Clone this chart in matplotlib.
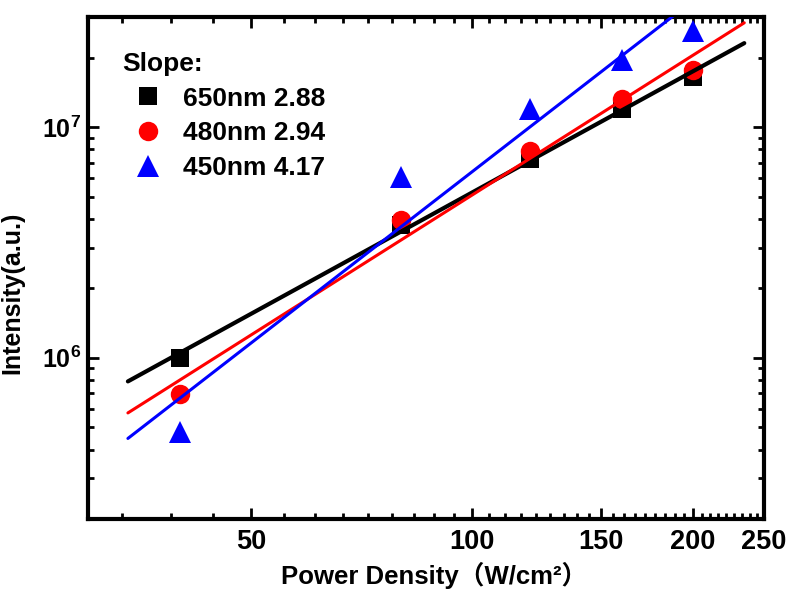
import numpy as np
import matplotlib; matplotlib.use("Agg")
import matplotlib.pyplot as plt
from matplotlib.ticker import FixedLocator, FixedFormatter, LogLocator, NullFormatter
from matplotlib.font_manager import FontProperties

plt.rcParams["font.family"] = ["Liberation Sans", "Noto Sans CJK SC", "DejaVu Sans"]
plt.rcParams["font.weight"] = "bold"
plt.rcParams["mathtext.fontset"] = "custom"
plt.rcParams["mathtext.rm"] = "Liberation Sans:bold"
plt.rcParams["mathtext.bf"] = "Liberation Sans:bold"

# ── Data ──────────────────────────────────────────────────────────────────────
power = [40, 80, 120, 160, 200]                       # W/cm^2
i_650 = [1.00e6, 3.78e6, 7.26e6, 1.20e7, 1.65e7]
i_480 = [6.97e5, 3.94e6, 7.87e6, 1.32e7, 1.77e7]
i_450 = [4.77e5, 6.07e6, 1.20e7, 1.95e7, 2.61e7]
labels = ["650nm 2.88", "480nm 2.94", "450nm 4.17"]
fit_range = [34, 235]

x_major = [50, 100, 150, 200, 250]
y_major = [1e6, 1e7]
y_major_lbl = [r"$\mathbf{10^{6}}$", r"$\mathbf{10^{7}}$"]

# ── Style ─────────────────────────────────────────────────────────────────────
series = [
    (i_650, "#000000", "s", 13, 3.0),
    (i_480, "#ff0000", "o", 14, 2.2),
    (i_450, "#0000ff", "^", 16, 2.2),
]

fig = plt.figure(figsize=(7.89, 5.90), dpi=100, facecolor="white")
ax = fig.add_axes([88 / 789, 71 / 590, 676 / 789, 502 / 590])
ax.set_xscale("log")
ax.set_yscale("log")

lx = np.log10(power)
fx = np.array(fit_range, dtype=float)
for (vals, col, mk, ms, lw), lab in zip(series, labels):
    ax.plot(power, vals, ls="none", marker=mk, ms=ms, color=col,
            markeredgewidth=0, label=lab, zorder=3)
# log-log least-squares fit lines
for vals, col, mk, ms, lw in series:
    p = np.polyfit(lx, np.log10(vals), 1)
    ax.plot(fx, 10 ** np.polyval(p, np.log10(fx)), color=col, lw=lw,
            solid_capstyle="round", zorder=4)

ax.set_xlim(30, 250)
ax.set_ylim(2e5, 3e7)

ax.xaxis.set_major_locator(FixedLocator(x_major))
ax.xaxis.set_major_formatter(FixedFormatter([str(v) for v in x_major]))
ax.xaxis.set_minor_locator(FixedLocator([50 / 9 * k for k in range(6, 45) if k % 9]))
ax.xaxis.set_minor_formatter(NullFormatter())
ax.yaxis.set_major_locator(FixedLocator(y_major))
ax.yaxis.set_major_formatter(FixedFormatter(y_major_lbl))
ax.yaxis.set_minor_locator(LogLocator(base=10, subs=range(2, 10)))
ax.yaxis.set_minor_formatter(NullFormatter())

for s in ax.spines.values():
    s.set_linewidth(3)
ax.tick_params(which="both", direction="in", top=True, right=True, width=2)
ax.tick_params(which="major", length=8, labelsize=19.5, pad=7)
ax.tick_params(which="minor", length=4)
ax.tick_params(axis="y", which="major", labelsize=18, pad=5)

ax.set_xlabel("Power Density（W/cm²）", fontsize=18.5, fontweight="bold", labelpad=4)
ax.xaxis.set_label_coords(0.512, -0.085)
ax.set_ylabel("Intensity(a.u.)", fontsize=18, fontweight="bold")
ax.yaxis.set_label_coords(-0.0947, 0.45)

leg_font = FontProperties(family="Liberation Sans", weight="bold", size=19)
ttl_font = FontProperties(family="Liberation Sans", weight="bold", size=19)
ax.legend(title="Slope:", loc="upper left", bbox_to_anchor=(0.05, 0.93),
          frameon=False, prop=leg_font, title_fontproperties=ttl_font,
          alignment="left", handlelength=1.97, handletextpad=0.34,
          labelspacing=0.40, borderpad=0, borderaxespad=0, numpoints=1)

plt.savefig("out.png", dpi=100)
plt.close()
